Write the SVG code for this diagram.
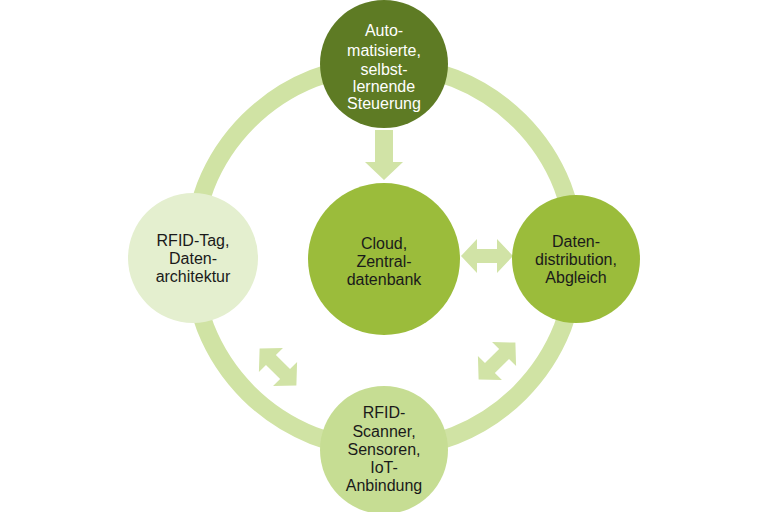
<svg xmlns="http://www.w3.org/2000/svg" width="768" height="512" viewBox="0 0 768 512">
<defs>
<style>
text{font-family:"Liberation Sans",Arial,sans-serif;font-size:16px;text-anchor:middle}
.dk{fill:#1a1a1a}
.wt{fill:#ffffff}
.arr{fill:#d1e3a6}
</style>
<path id="darr" d="M-26,0 L-10,-17 L-10,-7 L10,-7 L10,-17 L26,0 L10,17 L10,7 L-10,7 L-10,17 Z"/>
</defs>
<rect width="768" height="512" fill="#ffffff"/>
<g id="connectors">
<circle cx="384" cy="257" r="192" fill="none" stroke="#d0e3a4" stroke-width="18"/>
<path class="arr" d="M375,130 L393,130 L393,162 L403,162 L384,180 L365,162 L375,162 Z"/>
<use href="#darr" class="arr" transform="translate(487,256)"/>
<use href="#darr" class="arr" transform="translate(278,367) rotate(45)"/>
<use href="#darr" class="arr" transform="translate(497,361) rotate(-45)"/>
</g>
<g id="node-top">
<circle cx="384" cy="64" r="64" fill="#5e7b24"/>
<text class="wt" x="384" y="36">Auto-</text>
<text class="wt" x="384" y="56">matisierte,</text>
<text class="wt" x="384" y="75">selbst-</text>
<text class="wt" x="384" y="92">lernende</text>
<text class="wt" x="384" y="109">Steuerung</text>
</g>
<g id="node-center">
<circle cx="384" cy="259" r="76" fill="#9bbc3b"/>
<text class="dk" x="384" y="249">Cloud,</text>
<text class="dk" x="384" y="267">Zentral-</text>
<text class="dk" x="384" y="285">datenbank</text>
</g>
<g id="node-right">
<circle cx="576" cy="259" r="64" fill="#9bbc3b"/>
<text class="dk" x="576" y="247">Daten-</text>
<text class="dk" x="576" y="265">distribution,</text>
<text class="dk" x="576" y="283">Abgleich</text>
</g>
<g id="node-left">
<circle cx="193" cy="258" r="65" fill="#e4efcf"/>
<text class="dk" x="193" y="246">RFID-Tag,</text>
<text class="dk" x="193" y="264">Daten-</text>
<text class="dk" x="193" y="282">architektur</text>
</g>
<g id="node-bottom">
<circle cx="384" cy="450" r="64" fill="#c6dd93"/>
<text class="dk" x="384" y="418">RFID-</text>
<text class="dk" x="384" y="437">Scanner,</text>
<text class="dk" x="384" y="455">Sensoren,</text>
<text class="dk" x="384" y="473">IoT-</text>
<text class="dk" x="384" y="491">Anbindung</text>
</g>
</svg>
